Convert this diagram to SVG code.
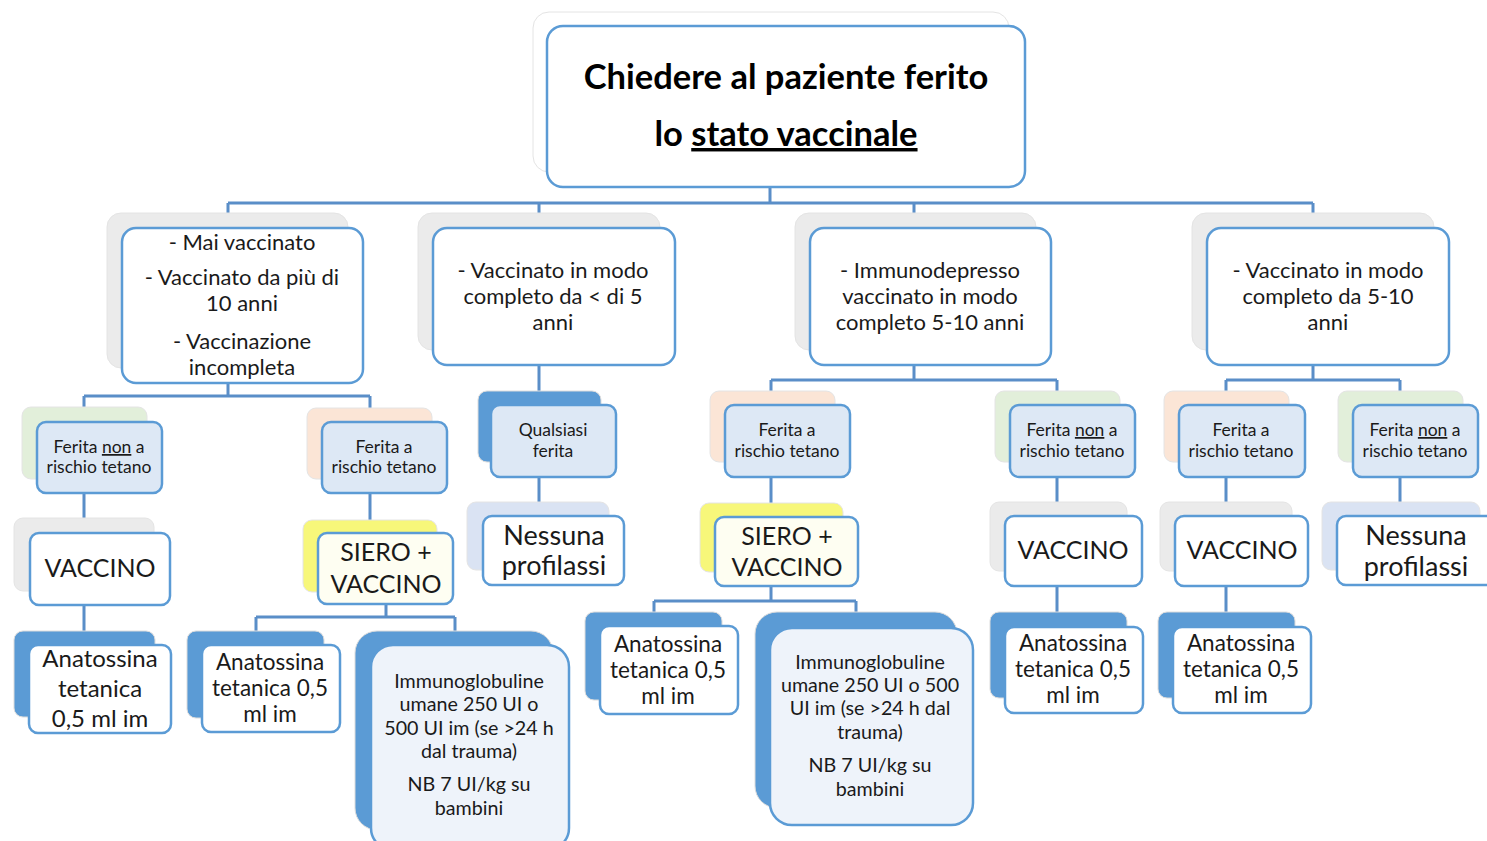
<svg xmlns="http://www.w3.org/2000/svg" width="1487" height="841" viewBox="0 0 1487 841">
<style>
.sh{stroke:#e4e4e4;stroke-width:1}
.gr{fill:#ebebeb}.gn{fill:#e2efda}.pc{fill:#fbe5d6}.yl{fill:#f7f77a}.bl{fill:#5b9bd5;stroke:#dcdcdc}.lb{fill:#dae3f3}
.fr{stroke:#5b9bd5;stroke-width:2.5}
.w{fill:#ffffff}.lbf{fill:#dde8f5}.lyf{fill:#fefef2}.lbp{fill:#eef3fa}
text{font-family:Lato,"Liberation Sans",sans-serif;fill:#1a1a1a;text-anchor:middle}
.t13{font-size:17.5px}.t20{font-size:22px}.t22{font-size:24px}.t24{font-size:25px}.t26{font-size:27px}.t19{font-size:19.7px}.ta{font-size:22.5px}
.tt{font-size:34.5px;font-weight:bold;fill:#000}
.con{fill:none;stroke:#5a8ec8;stroke-width:3}
</style>
<rect width="1487" height="841" fill="#ffffff"/>
<g id="connectors" class="con">
<path d="M770 187V203M228 203H1313M228 203V228M539 203V228M914 203V228M1313 203V228"/>
<path d="M228 383V396M84 396H370M84 396V422M370 396V422"/>
<path d="M84 493V533M84 605V645"/>
<path d="M370 493V533M386 604V617M256 617H455M256 617V645M455 617V645"/>
<path d="M539 365V405M539 477V516"/>
<path d="M914 365V380M771 380H1057M771 380V405M1057 380V405"/>
<path d="M771 477V517M771 586V601M654 601H856M654 601V626M856 601V628"/>
<path d="M1057 477V516M1057 586V627"/>
<path d="M1313 365V380M1226 380H1400M1226 380V405M1400 380V405"/>
<path d="M1226 477V516M1226 586V627M1400 477V516"/>
</g>

<g id="root">
<rect class="sh" x="533" y="12" width="476" height="160" rx="16" fill="#ffffff" stroke="#dedede"/>
<rect class="fr w" x="547" y="26" width="478" height="161" rx="16"/>
<text class="tt" x="786" y="89">Chiedere al paziente ferito</text>
<text class="tt" x="786" y="146">lo <tspan text-decoration="underline">stato vaccinale</tspan></text>
</g>

<g id="n-a">
<rect class="sh gr" x="107" y="213" width="241" height="155" rx="14"/>
<rect class="fr w" x="122" y="228" width="241" height="155" rx="14"/>
<text class="t20" x="242" y="250">- Mai vaccinato</text>
<text class="t20" x="242" y="285">- Vaccinato da più di</text>
<text class="t20" x="242" y="311">10 anni</text>
<text class="t20" x="242" y="349">- Vaccinazione</text>
<text class="t20" x="242" y="375">incompleta</text>
</g>
<g id="n-b">
<rect class="sh gr" x="418" y="213" width="242" height="137" rx="14"/>
<rect class="fr w" x="433" y="228" width="242" height="137" rx="14"/>
<text class="t20" x="553" y="278">- Vaccinato in modo</text>
<text class="t20" x="553" y="304">completo da &lt; di 5</text>
<text class="t20" x="553" y="330">anni</text>
</g>
<g id="n-c">
<rect class="sh gr" x="795" y="213" width="241" height="137" rx="14"/>
<rect class="fr w" x="810" y="228" width="241" height="137" rx="14"/>
<text class="t20" x="930" y="278">- Immunodepresso</text>
<text class="t20" x="930" y="304">vaccinato in modo</text>
<text class="t20" x="930" y="330">completo 5-10 anni</text>
</g>
<g id="n-d">
<rect class="sh gr" x="1192" y="213" width="242" height="137" rx="14"/>
<rect class="fr w" x="1207" y="228" width="242" height="137" rx="14"/>
<text class="t20" x="1328" y="278">- Vaccinato in modo</text>
<text class="t20" x="1328" y="304">completo da 5-10</text>
<text class="t20" x="1328" y="330">anni</text>
</g>

<g id="a1">
<rect class="sh gn" x="22" y="407" width="125" height="72" rx="9"/>
<rect class="fr lbf" x="37" y="422" width="125" height="71" rx="9"/>
<text class="t13" x="99" y="453">Ferita <tspan text-decoration="underline">non</tspan> a</text>
<text class="t13" x="99" y="473">rischio tetano</text>
</g>
<g id="a2">
<rect class="sh pc" x="307" y="408" width="125" height="71" rx="9"/>
<rect class="fr lbf" x="322" y="422" width="125" height="71" rx="9"/>
<text class="t13" x="384" y="453">Ferita a</text>
<text class="t13" x="384" y="473">rischio tetano</text>
</g>
<g id="a1b">
<rect class="sh gr" x="14" y="518" width="140" height="73" rx="9"/>
<rect class="fr w" x="30" y="533" width="140" height="72" rx="9"/>
<text class="t24" x="100" y="577">VACCINO</text>
</g>
<g id="a2b">
<rect class="sh yl" x="303" y="520" width="134" height="72" rx="9"/>
<rect class="fr lyf" x="318" y="533" width="135" height="71" rx="9"/>
<text class="t24" x="386" y="561">SIERO +</text>
<text class="t24" x="386" y="593">VACCINO</text>
</g>
<g id="a1c">
<rect class="sh bl" x="14" y="631" width="141" height="86" rx="9"/>
<rect class="fr w" x="29" y="645" width="142" height="88" rx="9"/>
<text class="t22" x="100" y="667">Anatossina</text>
<text class="t22" x="100" y="697">tetanica</text>
<text class="t22" x="100" y="727">0,5 ml im</text>
</g>
<g id="a2c">
<rect class="sh bl" x="187" y="631" width="137" height="87" rx="9"/>
<rect class="fr w" x="202" y="645" width="138" height="87" rx="9"/>
<text class="ta" x="270" y="670">Anatossina</text>
<text class="ta" x="270" y="696">tetanica 0,5</text>
<text class="ta" x="270" y="722">ml im</text>
</g>
<g id="a2d">
<rect class="sh bl" x="355" y="631" width="198" height="199" rx="22"/>
<rect class="fr lbp" x="371" y="645" width="198" height="205" rx="22"/>
<text class="t19" x="469" y="688">Immunoglobuline</text>
<text class="t19" x="469" y="711">umane 250 UI o</text>
<text class="t19" x="469" y="735">500 UI im (se &gt;24 h</text>
<text class="t19" x="469" y="758">dal trauma)</text>
<text class="t19" x="469" y="791">NB 7 UI/kg su</text>
<text class="t19" x="469" y="815">bambini</text>
</g>

<g id="b1">
<rect class="sh bl" x="478" y="391" width="123" height="71" rx="9"/>
<rect class="fr lbf" x="491" y="405" width="125" height="72" rx="9"/>
<text class="t13" x="553" y="436">Qualsiasi</text>
<text class="t13" x="553" y="457">ferita</text>
</g>
<g id="b2">
<rect class="sh lb" x="467" y="502" width="142" height="68" rx="9"/>
<rect class="fr w" x="483" y="516" width="141" height="69" rx="9"/>
<text class="t26" x="554" y="545">Nessuna</text>
<text class="t26" x="554" y="575">profilassi</text>
</g>

<g id="c1">
<rect class="sh pc" x="710" y="391" width="125" height="71" rx="9"/>
<rect class="fr lbf" x="725" y="405" width="125" height="72" rx="9"/>
<text class="t13" x="787" y="436">Ferita a</text>
<text class="t13" x="787" y="457">rischio tetano</text>
</g>
<g id="c2">
<rect class="sh yl" x="700" y="503" width="143" height="69" rx="9"/>
<rect class="fr lyf" x="715" y="517" width="143" height="69" rx="9"/>
<text class="t24" x="787" y="545">SIERO +</text>
<text class="t24" x="787" y="576">VACCINO</text>
</g>
<g id="c3">
<rect class="sh bl" x="585" y="612" width="137" height="88" rx="9"/>
<rect class="fr w" x="600" y="626" width="138" height="88" rx="9"/>
<text class="ta" x="668" y="652">Anatossina</text>
<text class="ta" x="668" y="678">tetanica 0,5</text>
<text class="ta" x="668" y="704">ml im</text>
</g>
<g id="c4">
<rect class="sh bl" x="755" y="612" width="202" height="196" rx="22"/>
<rect class="fr lbp" x="770" y="628" width="203" height="197" rx="22"/>
<text class="t19" x="870" y="669">Immunoglobuline</text>
<text class="t19" x="870" y="692">umane 250 UI o 500</text>
<text class="t19" x="870" y="715">UI im (se &gt;24 h dal</text>
<text class="t19" x="870" y="739">trauma)</text>
<text class="t19" x="870" y="772">NB 7 UI/kg su</text>
<text class="t19" x="870" y="796">bambini</text>
</g>
<g id="c5">
<rect class="sh gn" x="995" y="391" width="125" height="71" rx="9"/>
<rect class="fr lbf" x="1010" y="405" width="125" height="72" rx="9"/>
<text class="t13" x="1072" y="436">Ferita <tspan text-decoration="underline">non</tspan> a</text>
<text class="t13" x="1072" y="457">rischio tetano</text>
</g>
<g id="c6">
<rect class="sh gr" x="990" y="502" width="137" height="69" rx="9"/>
<rect class="fr w" x="1005" y="516" width="137" height="70" rx="9"/>
<text class="t24" x="1073" y="559">VACCINO</text>
</g>
<g id="c7">
<rect class="sh bl" x="990" y="612" width="137" height="86" rx="9"/>
<rect class="fr w" x="1005" y="627" width="138" height="86" rx="9"/>
<text class="ta" x="1073" y="651">Anatossina</text>
<text class="ta" x="1073" y="677">tetanica 0,5</text>
<text class="ta" x="1073" y="703">ml im</text>
</g>

<g id="d1">
<rect class="sh pc" x="1164" y="391" width="125" height="71" rx="9"/>
<rect class="fr lbf" x="1179" y="405" width="126" height="72" rx="9"/>
<text class="t13" x="1241" y="436">Ferita a</text>
<text class="t13" x="1241" y="457">rischio tetano</text>
</g>
<g id="d2">
<rect class="sh gr" x="1160" y="502" width="132" height="69" rx="9"/>
<rect class="fr w" x="1175" y="516" width="133" height="70" rx="9"/>
<text class="t24" x="1242" y="559">VACCINO</text>
</g>
<g id="d3">
<rect class="sh bl" x="1158" y="612" width="137" height="86" rx="9"/>
<rect class="fr w" x="1173" y="627" width="138" height="86" rx="9"/>
<text class="ta" x="1241" y="651">Anatossina</text>
<text class="ta" x="1241" y="677">tetanica 0,5</text>
<text class="ta" x="1241" y="703">ml im</text>
</g>
<g id="d4">
<rect class="sh gn" x="1338" y="391" width="125" height="71" rx="9"/>
<rect class="fr lbf" x="1353" y="405" width="125" height="72" rx="9"/>
<text class="t13" x="1415" y="436">Ferita <tspan text-decoration="underline">non</tspan> a</text>
<text class="t13" x="1415" y="457">rischio tetano</text>
</g>
<g id="d5">
<rect class="sh lb" x="1322" y="502" width="158" height="68" rx="9"/>
<rect class="fr w" x="1337" y="516" width="160" height="69" rx="9"/>
<text class="t26" x="1416" y="545">Nessuna</text>
<text class="t26" x="1416" y="576">profilassi</text>
</g>
</svg>
